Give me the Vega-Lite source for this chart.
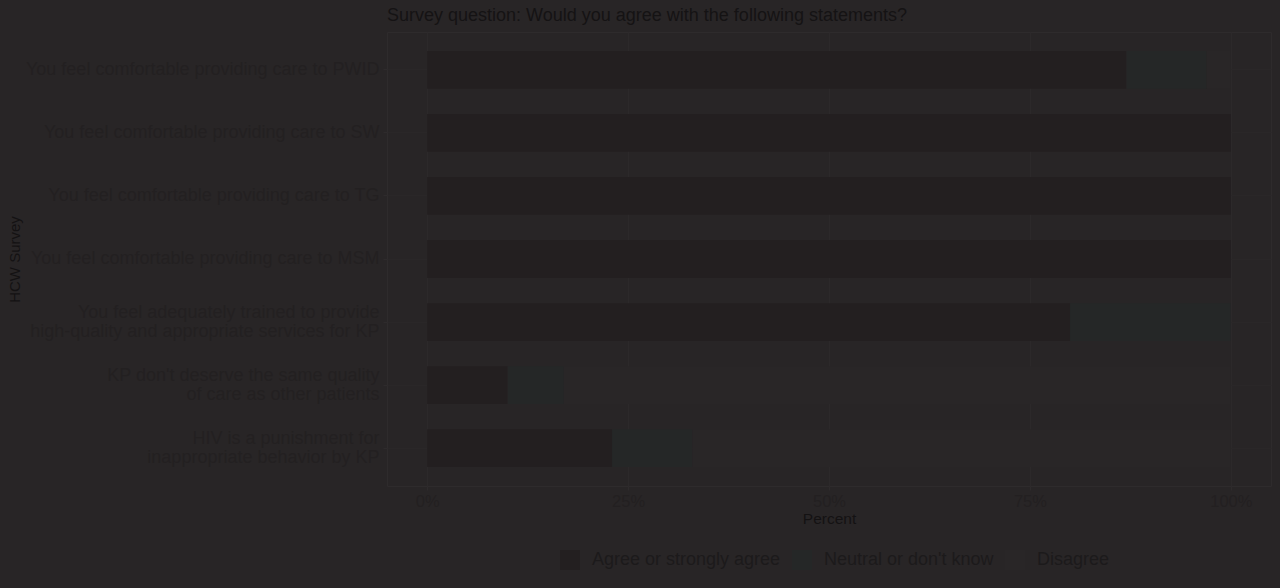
{
  "$schema": "https://vega.github.io/schema/vega-lite/v6.json",
  "autosize": "none",
  "width": 884,
  "height": 454,
  "padding": {"left": 387, "top": 32, "right": 9, "bottom": 102},
  "background": "#282526",
  "title": {
    "text": "Survey question: Would you agree with the following statements?",
    "anchor": "start",
    "frame": "group",
    "font": "Liberation Sans",
    "fontSize": 18,
    "fontWeight": "normal",
    "color": "#151314",
    "offset": 7
  },
  "data": {
    "values": [
      {"statement": "You feel comfortable providing care to PWID", "response": "Agree or strongly agree", "share": 0.87},
      {"statement": "You feel comfortable providing care to PWID", "response": "Neutral or don't know", "share": 0.10},
      {"statement": "You feel comfortable providing care to PWID", "response": "Disagree", "share": 0.03},
      {"statement": "You feel comfortable providing care to SW", "response": "Agree or strongly agree", "share": 1.0},
      {"statement": "You feel comfortable providing care to TG", "response": "Agree or strongly agree", "share": 1.0},
      {"statement": "You feel comfortable providing care to MSM", "response": "Agree or strongly agree", "share": 1.0},
      {"statement": "You feel adequately trained to provide|high-quality and appropriate services for KP", "response": "Agree or strongly agree", "share": 0.80},
      {"statement": "You feel adequately trained to provide|high-quality and appropriate services for KP", "response": "Neutral or don't know", "share": 0.20},
      {"statement": "KP don't deserve the same quality|of care as other patients", "response": "Agree or strongly agree", "share": 0.10},
      {"statement": "KP don't deserve the same quality|of care as other patients", "response": "Neutral or don't know", "share": 0.07},
      {"statement": "KP don't deserve the same quality|of care as other patients", "response": "Disagree", "share": 0.83},
      {"statement": "HIV is a punishment for|inappropriate behavior by KP", "response": "Agree or strongly agree", "share": 0.23},
      {"statement": "HIV is a punishment for|inappropriate behavior by KP", "response": "Neutral or don't know", "share": 0.10},
      {"statement": "HIV is a punishment for|inappropriate behavior by KP", "response": "Disagree", "share": 0.67}
    ]
  },
  "transform": [
    {"calculate": "indexof(['Agree or strongly agree', 'Neutral or don\\'t know', 'Disagree'], datum.response)", "as": "stack_rank"}
  ],
  "mark": {"type": "bar"},
  "encoding": {
    "y": {
      "field": "statement",
      "type": "nominal",
      "sort": null,
      "title": "HCW Survey",
      "scale": {"paddingInner": 0.4, "paddingOuter": 0.3},
      "axis": {
        "labelExpr": "split(datum.label, '|')",
        "labelFont": "Liberation Sans",
        "labelFontSize": 18,
        "labelColor": "#232021",
        "labelLineHeight": 19,
        "labelLimit": 0,
        "labelPadding": 4,
        "labelOffset": {"condition": {"test": "indexof(datum.value, '|') >= 0", "value": -9}, "value": 0},
        "tickColor": "#2e2b2c",
        "tickSize": 4,
        "domain": false,
        "grid": true,
        "gridColor": "#2a2728",
        "titleFont": "Liberation Sans",
        "titleFontSize": 15,
        "titleFontWeight": "normal",
        "titleColor": "#141213",
        "titleX": -373,
        "titleY": 227,
        "titleAngle": 270,
        "titleAlign": "center",
        "titleBaseline": "middle"
      }
    },
    "x": {
      "field": "share",
      "type": "quantitative",
      "stack": "zero",
      "title": "Percent",
      "scale": {"domain": [-0.05, 1.05], "nice": false, "zero": false},
      "axis": {
        "values": [0, 0.25, 0.5, 0.75, 1],
        "format": ".0%",
        "labelFont": "Liberation Sans",
        "labelFontSize": 16.5,
        "labelColor": "#232021",
        "labelPadding": 3,
        "tickColor": "#2e2b2c",
        "tickSize": 4,
        "domain": false,
        "grid": true,
        "gridColor": "#2c292a",
        "titleFont": "Liberation Sans",
        "titleFontSize": 15.5,
        "titleFontWeight": "normal",
        "titleColor": "#141213",
        "titlePadding": 2
      }
    },
    "color": {
      "field": "response",
      "type": "nominal",
      "sort": ["Agree or strongly agree", "Neutral or don't know", "Disagree"],
      "scale": {
        "domain": ["Agree or strongly agree", "Neutral or don't know", "Disagree"],
        "range": ["#231f20", "#252727", "#292627"]
      },
      "legend": {
        "title": null,
        "orient": "none",
        "direction": "horizontal",
        "legendX": 173,
        "legendY": 518,
        "symbolType": "square",
        "symbolSize": 400,
        "symbolStrokeWidth": 0,
        "labelFont": "Liberation Sans",
        "labelFontSize": 18,
        "labelColor": "#1c1a1b",
        "labelLimit": 0,
        "labelOffset": 12,
        "columnPadding": 11
      }
    },
    "order": {"field": "stack_rank", "type": "quantitative", "sort": "ascending"}
  },
  "config": {
    "view": {"stroke": "#2e2b2c", "strokeWidth": 1, "fill": "#282526"}
  }
}
